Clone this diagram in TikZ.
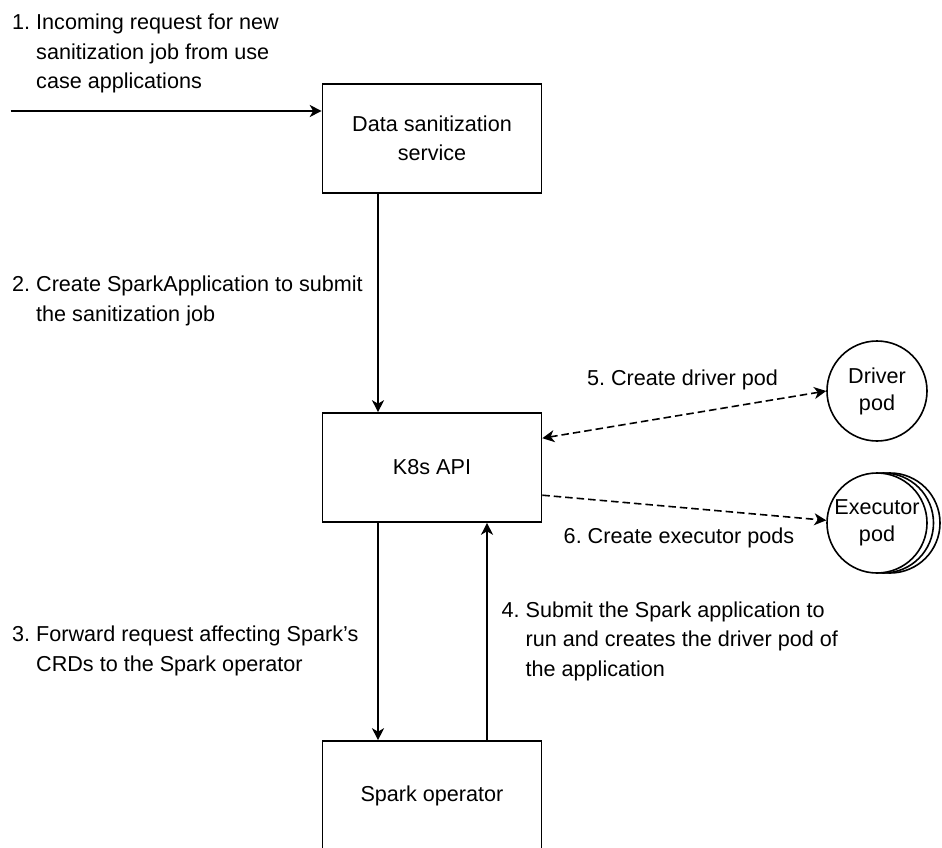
\documentclass[tikz,border=0pt]{standalone}
\usepackage{fontspec}
\setmainfont{Liberation Sans}
\usetikzlibrary{arrows.meta,calc}
\frenchspacing

% numbered step labels with a hanging indent
\newcommand{\stepnum}[1]{\makebox[24pt][l]{#1}}
\newcommand{\stepcont}{\hspace*{24pt}}

\tikzset{
  box/.style={draw, line width=1.6pt, fill=white, minimum width=219pt,
    minimum height=109pt, inner sep=0pt, align=center,
    font=\fontsize{21.6}{29}\selectfont},
  pod/.style={draw, circle, line width=1.6pt, minimum size=100pt,
    inner sep=0pt, align=center, font=\fontsize{21.6}{27}\selectfont},
  flow/.style={line width=1.6pt, ->},
  spawn/.style={flow, dash pattern=on 7.5pt off 4pt},
  % multi-line labels are placed by the baseline of their last line
  note/.style={anchor=base west, align=left, inner sep=0pt},
  caption/.style={anchor=base, inner sep=0pt},
}

\begin{document}
\begin{tikzpicture}[x=1pt, y=-1pt,
  font=\fontsize{21.6}{29.5}\selectfont,
  >={Stealth[length=12pt,width=12pt,inset=3.5pt]}]
\useasboundingbox (0,0) rectangle (942,848);
\clip (0,0) rectangle (942,848);

% services
\node[box] (ds)  at (432,138.5) {Data sanitization\\service};
\node[box] (k8s) at (432,467.5) {K8s API};
\node[box] (so)  at (432,795.5) {Spark operator};

% pods (executor pods drawn as a stack)
\node[pod] (drv) at (877,391) {Driver\\pod};
\node[pod] (exe3) at (890,523) {};
\node[pod, fill=white] (exe2) at (883.5,523) {};
\node[pod, fill=white] (exe1) at (877,523) {Executor\\pod};

% connectors
\coordinate (src) at (10.5,111);
\draw[flow] (src) -- (src -| ds.west);
\draw[flow] ($(ds.south)+(-54,0)$) -- ($(k8s.north)+(-54,0)$);
\draw[flow] ($(k8s.south)+(-54,0)$) -- ($(so.north)+(-54,0)$);
\draw[flow] ($(so.north)+(55,0)$) -- ($(k8s.south)+(55,0)$);
\draw[spawn, <->] ($(k8s.north east)+(0,26)$) -- (drv.west);
\draw[spawn] ($(k8s.north east)+(0,83)$) -- (exe1.177);

% step labels
\node[note] (l1) at (12,89) {\stepnum{1.}Incoming request for new\\\stepcont sanitization job from use\\\stepcont case applications};
\node[note] (l2) at (12,321) {\stepnum{2.}Create SparkApplication to submit\\\stepcont the sanitization job};
\node[note] (l3) at (12,671) {\stepnum{3.}Forward request affecting Spark's\\\stepcont CRDs to the Spark operator};
\node[note] (l4) at (501.5,676) {\stepnum{4.}Submit the Spark application to\\\stepcont run and creates the driver pod of\\\stepcont the application};
\node[caption] (l5) at (682.5,385) {5. Create driver pod};
\node[caption] (l6) at (679,543) {6. Create executor pods};
\end{tikzpicture}
\end{document}
